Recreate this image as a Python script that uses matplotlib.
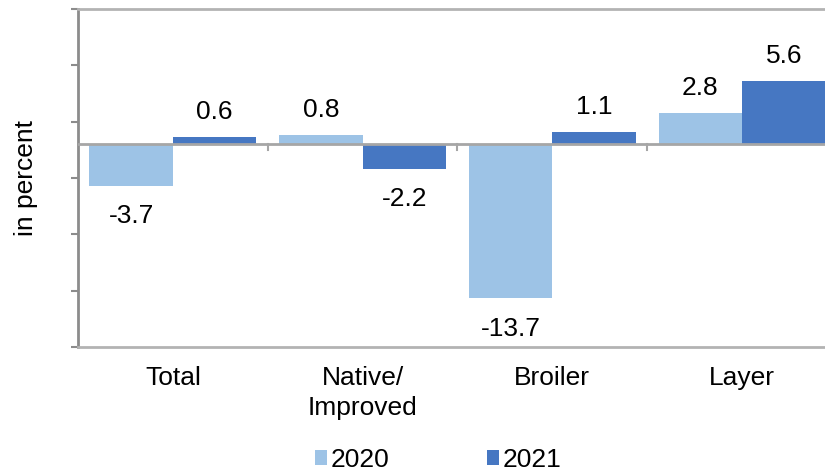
import matplotlib.pyplot as plt
import numpy as np

plt.rcParams['font.family'] = ['Liberation Sans', 'DejaVu Sans']

# data
categories = ["Total", "Native/\nImproved", "Broiler", "Layer"]
years = ["2020", "2021"]
vals_2020 = [-3.7, 0.8, -13.7, 2.8]
vals_2021 = [0.6, -2.2, 1.1, 5.6]

c2020 = "#9dc3e6"
c2021 = "#4677c2"
fs = 19

fig = plt.figure(figsize=(8.25, 4.72), dpi=100)
ax = fig.add_axes([0.0945, 0.265, 0.92, 0.716])

x = np.arange(len(categories))
w = 0.44
b1 = ax.bar(x - w / 2, vals_2020, w, color=c2020, label=years[0], zorder=2)
b2 = ax.bar(x + w / 2, vals_2021, w, color=c2021, label=years[1], zorder=2)

# value labels
for bars, vals in [(b1, vals_2020), (b2, vals_2021)]:
    for rect, v in zip(bars, vals):
        cx = rect.get_x() + rect.get_width() / 2
        off = 18 if v >= 0 else -22
        ax.annotate(f"{v:.1f}", (cx, v), xytext=(0, off), textcoords="offset points",
                    ha="center", va="center", fontsize=fs)

ax.set_xlim(-0.5, 3.5)
ax.set_ylim(-18, 12)
ax.set_yticks([-18, -13, -8, -3, 2, 7, 12])
ax.set_yticklabels([])
ax.tick_params(axis="y", length=5, width=1.5, color="#8c8c8c", direction="out")

# category labels below plot
ax.set_xticks(x)
ax.set_xticklabels(categories, fontsize=fs, linespacing=1.3)
ax.tick_params(axis="x", length=0, pad=14)

# zero line with category separators
ax.axhline(0, color="#a6a6a6", lw=2, zorder=3)
for sep in [0.5, 1.5, 2.5]:
    ax.plot([sep, sep], [0, -0.5], color="#a6a6a6", lw=1.5, zorder=3, clip_on=False)

for s in ["top", "bottom"]:
    ax.spines[s].set_color("#b3b3b3")
    ax.spines[s].set_linewidth(2)
ax.spines["right"].set_visible(False)
ax.spines["left"].set_color("#8c8c8c")
ax.spines["left"].set_linewidth(2)

ax.set_ylabel("in percent", fontsize=fs, labelpad=20)

fig.legend(loc="lower center", bbox_to_anchor=(0.531, -0.05), ncol=2, fontsize=fs,
           frameon=False, handlelength=0.45, handleheight=0.45, handletextpad=0.15,
           columnspacing=3.7)

fig.savefig("out.png", dpi=100)
